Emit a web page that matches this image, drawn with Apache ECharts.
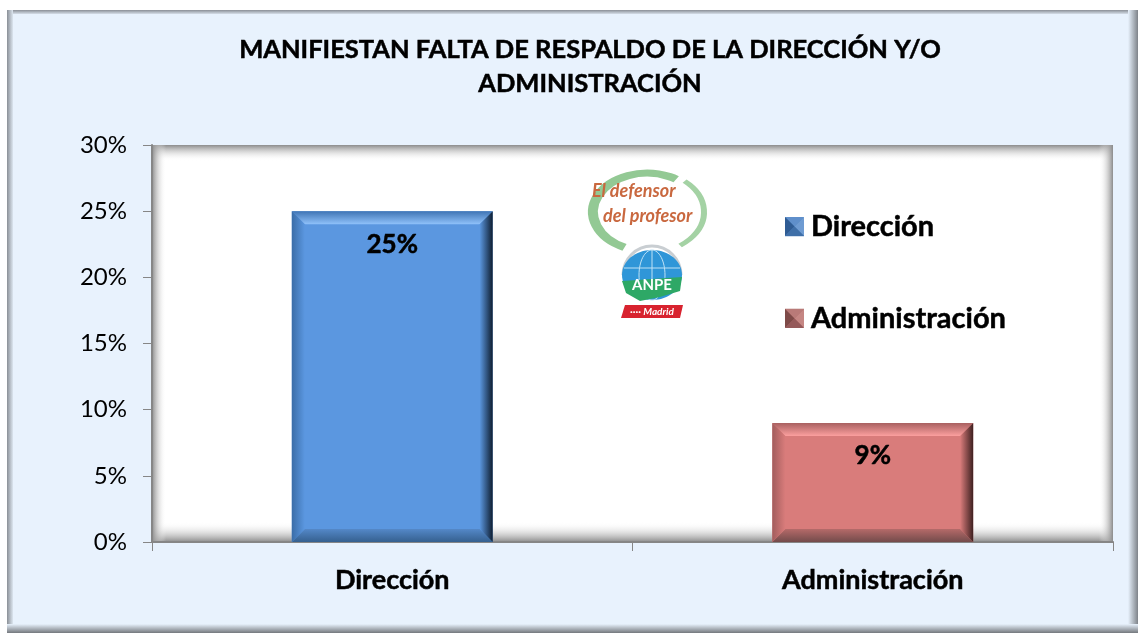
<!DOCTYPE html>
<html>
<head>
<meta charset="utf-8">
<style>
  html, body { margin: 0; padding: 0; background: #fff; }
  #chart { width: 1142px; height: 635px; }
</style>
<script src="https://cdn.jsdelivr.net/npm/echarts@6/dist/echarts.min.js"></script>
</head>
<body>
<div id="chart"></div>
<script>
var categories = ['Dirección', 'Administración']
var direccionValues = [0.25]
var administracionValues = [0.09]
var yTicks = { min: 0, max: 0.3, interval: 0.05 }

var chart = echarts.init(document.getElementById('chart'))
var font = 'Lato'
var LG = echarts.graphic.LinearGradient

function lg(x0, y0, x1, y1, a, b) {
  return new LG(x0, y0, x1, y1, [{ offset: 0, color: a }, { offset: 1, color: b }])
}

// beveled bar, colours per series
function bevelBar(c) {
  return function (params, api) {
    var idx = api.value(0)
    var val = api.value(1)
    var top = api.coord([idx, val])
    var base = api.coord([idx, 0])
    var w = api.size([1, 0])[0] * 0.418
    var l = top[0] - w / 2, r = top[0] + w / 2, t = top[1], b = base[1]
    var s = 13
    function poly(pts, fill) {
      return { type: 'polygon', shape: { points: pts }, style: { fill: fill } }
    }
    return {
      type: 'group',
      children: [
        { type: 'rect', shape: { x: l, y: t, width: w, height: b - t }, style: { fill: c.main } },
        poly([[l, t], [r, t], [r - s, t + s], [l + s, t + s]], lg(0, 0, 0, 1, c.topA, c.topB)),
        poly([[l, b], [r, b], [r - s, b - s], [l + s, b - s]], lg(0, 0, 0, 1, c.botA, c.botB)),
        poly([[l, t], [l + s, t + s], [l + s, b - s], [l, b]], lg(0, 0, 1, 0, c.leftA, c.leftB)),
        poly([[r, t], [r - s, t + s], [r - s, b - s], [r, b]], lg(0, 0, 1, 0, c.rightA, c.rightB)),
        {
          type: 'text',
          style: {
            x: top[0], y: t + 33, text: Math.round(val * 100) + '%',
            fill: '#000', stroke: '#000', lineWidth: 0.5, font: 'bold 26px ' + font,
            textAlign: 'center', textVerticalAlign: 'middle'
          }
        }
      ]
    }
  }
}

var blue = {
  main: '#5B97E0', topA: '#3F74B4', topB: '#8FC1FA', botA: '#5488C8', botB: '#35608F',
  leftA: '#3A6DA8', leftB: '#5B97E0', rightA: '#5B97E0', rightB: '#0E1D30'
}
var red = {
  main: '#D97C7B', topA: '#A86060', topB: '#FB9F9E', botA: '#B56A69', botB: '#734B4B',
  leftA: '#A25D5D', leftB: '#D97C7B', rightA: '#D97C7B', rightB: '#3E2020'
}

function gradRect(x, y, w, h, grad, z) {
  return { type: 'rect', silent: true, z: z || 0, shape: { x: x, y: y, width: w, height: h }, style: { fill: grad } }
}
function tri(pts, fill) {
  return { type: 'polygon', silent: true, z: 100, shape: { points: pts }, style: { fill: fill } }
}
// legend marker drawn as a little pyramid
function marker(x, y, a, b, d, e) {
  var s = 19, m = 9.5
  return [
    tri([[x, y], [x + s, y], [x + m, y + m]], a),
    tri([[x, y], [x, y + s], [x + m, y + m]], b),
    tri([[x + s, y], [x + s, y + s], [x + m, y + m]], d),
    tri([[x, y + s], [x + s, y + s], [x + m, y + m]], e)
  ]
}

var frame = [
  // outer panel
  gradRect(7, 10, 1131, 623, '#E8F2FD', -10),
  gradRect(7, 10, 1131, 4, lg(0, 0, 0, 1, '#8A8F96', '#D5DEE8'), -9),
  gradRect(7, 10, 6, 623, lg(0, 0, 1, 0, '#8A8F96', '#DCE6F0'), -9),
  gradRect(1128, 10, 10, 623, lg(0, 0, 1, 0, '#E8F2FD', '#7E8389'), -9),
  gradRect(7, 624, 1131, 9, lg(0, 0, 0, 1, '#E8F2FD', '#74787D'), -9),
  // plot area with soft inner shadow
  gradRect(152, 145, 961, 397, '#FFFFFF', -8),
  gradRect(152, 145, 961, 16, lg(0, 0, 0, 1, '#8C8C8C', 'rgba(255,255,255,0)'), -7),
  gradRect(152, 522, 961, 20, lg(0, 0, 0, 1, 'rgba(255,255,255,0)', '#8C8C8C'), -7),
  gradRect(152, 145, 14, 397, lg(0, 0, 1, 0, '#8C8C8C', 'rgba(255,255,255,0)'), -7),
  gradRect(1099, 145, 14, 397, lg(0, 0, 1, 0, 'rgba(255,255,255,0)', '#8C8C8C'), -7)
]

var logo = [
  { type: 'arc', silent: true, z: 20, x: 647, y: 212, scaleY: 0.72, originX: 0, originY: 0,
    shape: { cx: 0, cy: 0, r: 54, startAngle: 2.0, endAngle: -1.0, clockwise: true },
    style: { fill: 'none', stroke: '#93C994', lineWidth: 10 } },
  { type: 'arc', silent: true, z: 20, x: 647, y: 212, scaleY: 0.72, originX: 0, originY: 0,
    shape: { cx: 0, cy: 0, r: 57, startAngle: -0.85, endAngle: 0.95, clockwise: true },
    style: { fill: 'none', stroke: '#A4D2A4', lineWidth: 6 } },
  { type: 'text', silent: true, z: 21, style: { x: 592, y: 191, text: 'El defensor', fill: '#C9683F', font: 'italic bold 18px ' + font, textVerticalAlign: 'middle' } },
  { type: 'text', silent: true, z: 21, style: { x: 603, y: 216, text: 'del profesor', fill: '#C9683F', font: 'italic bold 18px ' + font, textVerticalAlign: 'middle' } },
  { type: 'arc', silent: true, z: 20, shape: { cx: 652, cy: 275, r: 29, startAngle: Math.PI, endAngle: 0, clockwise: true }, style: { fill: 'none', stroke: '#C9CED2', lineWidth: 3 } },
  { type: 'ellipse', silent: true, z: 21, shape: { cx: 652, cy: 275, rx: 30, ry: 25 }, style: { fill: '#2F96D8' } },
  { type: 'ellipse', silent: true, z: 22, shape: { cx: 652, cy: 275, rx: 13, ry: 25 }, style: { fill: 'none', stroke: '#BFE2F6', lineWidth: 1 } },
  { type: 'line', silent: true, z: 22, shape: { x1: 624, y1: 268, x2: 680, y2: 268 }, style: { stroke: '#BFE2F6', lineWidth: 1 } },
  { type: 'line', silent: true, z: 22, shape: { x1: 652, y1: 250, x2: 652, y2: 280 }, style: { stroke: '#BFE2F6', lineWidth: 1 } },
  { type: 'polygon', silent: true, z: 23, shape: { points: [[622, 281], [682, 277], [680, 291], [660, 297], [640, 301], [626, 293]] }, style: { fill: '#2EA866' } },
  { type: 'text', silent: true, z: 24, style: { x: 652, y: 285, text: 'ANPE', fill: '#fff', font: 'bold 15px ' + font, textAlign: 'center', textVerticalAlign: 'middle' } },
  { type: 'polygon', silent: true, z: 23, shape: { points: [[625, 305], [683, 305], [680, 318], [621, 318]] }, style: { fill: '#D8232F' } },
  { type: 'text', silent: true, z: 24, style: { x: 652, y: 312, text: '···· Madrid', fill: '#fff', font: 'italic bold 10px ' + font, textAlign: 'center', textVerticalAlign: 'middle' } }
]

var markers = marker(785, 217, '#5F8FCB', '#2F5C94', '#6E9BD2', '#3F6FA8')
  .concat(marker(785, 309, '#B97A78', '#7E4A48', '#C58683', '#95595A'))

var boldText = { textBorderColor: '#000', textBorderWidth: 0.5 }

chart.setOption({
  animation: false,
  backgroundColor: '#fff',
  title: {
    text: 'MANIFIESTAN FALTA DE RESPALDO DE LA DIRECCIÓN Y/O\nADMINISTRACIÓN',
    left: 585,
    top: 28,
    textAlign: 'center',
    textStyle: Object.assign({ fontFamily: font, fontSize: 25.5, fontWeight: 'bold', color: '#000', lineHeight: 34 }, boldText)
  },
  legend: {
    orient: 'vertical',
    left: 785,
    top: 212,
    padding: 0,
    itemWidth: 19,
    itemHeight: 19,
    itemGap: 62,
    icon: 'rect',
    data: categories,
    selectedMode: false,
    textStyle: Object.assign({ fontFamily: font, fontSize: 29, fontWeight: 'bold', color: '#000', padding: [0, 0, 0, 2] }, boldText)
  },
  grid: { left: 152, right: 29, top: 145, bottom: 93, containLabel: false },
  xAxis: {
    type: 'category',
    data: categories,
    axisTick: { show: true, length: 9, lineStyle: { color: '#868686', width: 1 } },
    axisLine: { lineStyle: { color: '#868686', width: 2 } },
    axisLabel: Object.assign({ fontFamily: font, fontSize: 27, fontWeight: 'bold', color: '#000', margin: 25 }, boldText)
  },
  yAxis: {
    type: 'value',
    min: yTicks.min,
    max: yTicks.max,
    interval: yTicks.interval,
    splitLine: { show: false },
    axisLine: { show: true, lineStyle: { color: '#868686', width: 2 } },
    axisTick: { show: true, length: 9, lineStyle: { color: '#868686', width: 1 } },
    axisLabel: {
      fontFamily: font, fontSize: 24, color: '#000', margin: 25,
      formatter: function (v) { return Math.round(v * 100) + '%' }
    }
  },
  graphic: { elements: frame.concat(logo).concat(markers) },
  series: [
    {
      name: categories[0],
      type: 'custom',
      renderItem: bevelBar(blue),
      itemStyle: { color: '#4C7DB8' },
      encode: { x: 0, y: 1 },
      data: direccionValues.map(function (v) { return [0, v] })
    },
    {
      name: categories[1],
      type: 'custom',
      renderItem: bevelBar(red),
      itemStyle: { color: '#A86866' },
      encode: { x: 0, y: 1 },
      data: administracionValues.map(function (v) { return [1, v] })
    }
  ]
})
</script>
</body>
</html>
